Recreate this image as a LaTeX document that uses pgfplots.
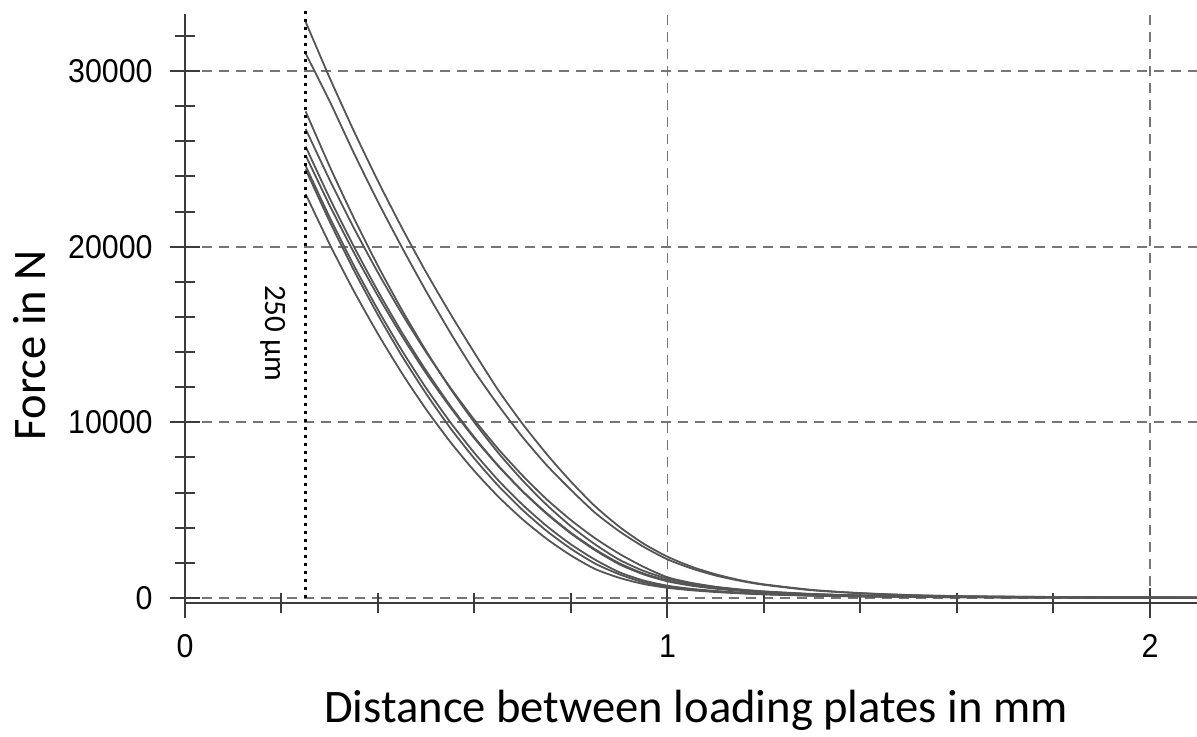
\documentclass[border=0pt]{standalone}
\usepackage{fontspec}
\setmainfont{Carlito}
\newfontfamily\arialfont[FakeStretch=0.92]{Liberation Sans}
\usepackage{pgfplots}
\pgfplotsset{compat=1.18}
\definecolor{curve}{HTML}{555555}
\definecolor{gridc}{HTML}{767676}
\definecolor{axisc}{HTML}{3C3C3C}
\pgfplotsset{crv/.style={draw=curve, line width=0.9pt, smooth, tension=0.4, mark=none, solid}}
\begin{document}
\begin{tikzpicture}
\begin{axis}[
  scale only axis, width=506pt, height=294.7pt,
  xmin=0, xmax=2.0974, ymin=-300, ymax=33250,
  axis x line=bottom, axis y line=left,
  axis line style={-, draw=axisc, line width=1pt},
  clip=false,
  xtick={0,1,2}, minor xtick={0.2,0.4,0.6,0.8,1.2,1.4,1.6,1.8},
  ytick={0,10000,20000,30000},
  minor ytick={2000,4000,6000,8000,12000,14000,16000,18000,22000,24000,26000,28000,32000},
  tick align=center, major tick length=15pt, minor tick length=10pt,
  tick style={draw=axisc, line width=1pt},
  grid=major, major grid style={draw=gridc, line width=0.9pt, dash pattern=on 5pt off 3.5pt},
  /pgf/number format/assume math mode=true,
  scaled y ticks=false,
  yticklabel style={font=\arialfont\fontsize{16.5}{19}\selectfont, anchor=east, inner sep=0pt, xshift=-8.5pt, /pgf/number format/1000 sep={}},
  xticklabel style={font=\arialfont\fontsize{16.5}{19}\selectfont, anchor=north, inner sep=0pt, yshift=-8pt},
  xlabel={Distance between loading plates in mm},
  ylabel={Force in N},
  xlabel style={font=\fontsize{23.3}{28}\selectfont, at={(rel axis cs:0.505,-0.2015)}, anchor=base},
  ylabel style={font=\fontsize{23.3}{28}\selectfont, at={(rel axis cs:-0.1532,0.4382)}, anchor=center, rotate=0},
]
% A
\addplot[crv] coordinates {(0.25,32800)(0.30,29600)(0.35,26580)(0.40,23730)(0.45,21050)(0.50,18530)(0.55,16180)(0.60,13950)(0.65,11800)(0.70,9900)(0.75,8180)(0.80,6620)(0.85,5220)(0.90,4060)(0.95,3100)(1.00,2350)(1.05,1780)(1.10,1350)(1.15,1020)(1.20,780)(1.30,460)(1.40,280)(1.50,170)(1.60,110)(1.80,60)(2.00,35)(2.097,25)};
% B
\addplot[crv] coordinates {(0.25,31000)(0.30,28270)(0.35,25330)(0.40,22550)(0.45,19940)(0.50,17450)(0.55,15100)(0.60,12900)(0.65,10950)(0.70,9150)(0.75,7550)(0.80,6150)(0.85,4850)(0.90,3800)(0.95,2920)(1.00,2200)(1.05,1680)(1.10,1280)(1.15,980)(1.20,750)(1.30,440)(1.40,270)(1.50,165)(1.60,105)(1.80,55)(2.00,30)(2.097,22)};
% C
\addplot[crv] coordinates {(0.25,27700)(0.30,24560)(0.35,21630)(0.40,18900)(0.45,16380)(0.50,14050)(0.55,11920)(0.60,9990)(0.65,8240)(0.70,6680)(0.75,5290)(0.80,4080)(0.85,3050)(0.90,2180)(0.95,1550)(1.00,1100)(1.05,820)(1.10,620)(1.15,470)(1.20,360)(1.30,220)(1.40,140)(1.50,90)(1.60,65)(1.80,40)(2.00,25)(2.097,20)};
% D
\addplot[crv] coordinates {(0.25,26700)(0.30,23790)(0.35,21060)(0.40,18520)(0.45,16160)(0.50,13980)(0.55,11970)(0.60,10130)(0.65,8460)(0.70,6960)(0.75,5610)(0.80,4430)(0.85,3400)(0.90,2520)(0.95,1780)(1.00,1180)(1.05,860)(1.10,640)(1.15,490)(1.20,380)(1.30,230)(1.40,150)(1.50,100)(1.60,70)(1.80,45)(2.00,28)(2.097,20)};
% E
\addplot[crv] coordinates {(0.25,25700)(0.30,22750)(0.35,20010)(0.40,17460)(0.45,15100)(0.50,12930)(0.55,10940)(0.60,9140)(0.65,7510)(0.70,6060)(0.75,4780)(0.80,3670)(0.85,2720)(0.90,1920)(0.95,1350)(1.00,950)(1.05,700)(1.10,530)(1.15,410)(1.20,320)(1.30,200)(1.40,130)(1.50,85)(1.60,60)(1.80,38)(2.00,24)(2.097,18)};
% F
\addplot[crv] coordinates {(0.25,25200)(0.30,22340)(0.35,19670)(0.40,17190)(0.45,14900)(0.50,12780)(0.55,10850)(0.60,9080)(0.65,7490)(0.70,6070)(0.75,4820)(0.80,3710)(0.85,2770)(0.90,1980)(0.95,1400)(1.00,1000)(1.05,740)(1.10,560)(1.15,430)(1.20,335)(1.30,210)(1.40,135)(1.50,90)(1.60,62)(1.80,40)(2.00,25)(2.097,18)};
% G
\addplot[crv] coordinates {(0.25,24600)(0.30,21660)(0.35,18930)(0.40,16400)(0.45,14070)(0.50,11940)(0.55,10000)(0.60,8250)(0.65,6680)(0.70,5300)(0.75,4090)(0.80,3050)(0.85,2180)(0.90,1470)(0.95,1000)(1.00,700)(1.05,520)(1.10,400)(1.15,310)(1.20,240)(1.30,150)(1.40,100)(1.50,70)(1.60,50)(1.80,32)(2.00,20)(2.097,15)};
% H
\addplot[crv] coordinates {(0.25,24400)(0.30,21420)(0.35,18660)(0.40,16110)(0.45,13760)(0.50,11620)(0.55,9670)(0.60,7930)(0.65,6370)(0.70,5000)(0.75,3810)(0.80,2800)(0.85,1960)(0.90,1350)(0.95,900)(1.00,650)(1.05,490)(1.10,370)(1.15,290)(1.20,225)(1.30,140)(1.40,95)(1.50,65)(1.60,48)(1.80,30)(2.00,20)(2.097,15)};
% I
\addplot[crv] coordinates {(0.25,23000)(0.30,20130)(0.35,17470)(0.40,15030)(0.45,12780)(0.50,10730)(0.55,8880)(0.60,7220)(0.65,5750)(0.70,4470)(0.75,3360)(0.80,2420)(0.85,1650)(0.90,1150)(0.95,800)(1.00,580)(1.05,440)(1.10,340)(1.15,265)(1.20,205)(1.30,130)(1.40,88)(1.50,60)(1.60,45)(1.80,28)(2.00,18)(2.097,14)};
% 250 um marker line
\addplot[draw=black, line width=1.5pt, dash pattern=on 1.5pt off 2.5pt, mark=none] coordinates {(0.25,0)(0.25,33600)};
\node[rotate=-90, font=\fontsize{15.5}{18}\selectfont, inner sep=0pt] at (axis cs:0.1824,15085) {250 µm};
\coordinate (bl) at (axis cs:-0.38342,-7856);
\coordinate (tr) at (axis cs:2.09741,34041);
\end{axis}
\pgfresetboundingbox
\useasboundingbox (bl) rectangle (tr);
\end{tikzpicture}
\end{document}
